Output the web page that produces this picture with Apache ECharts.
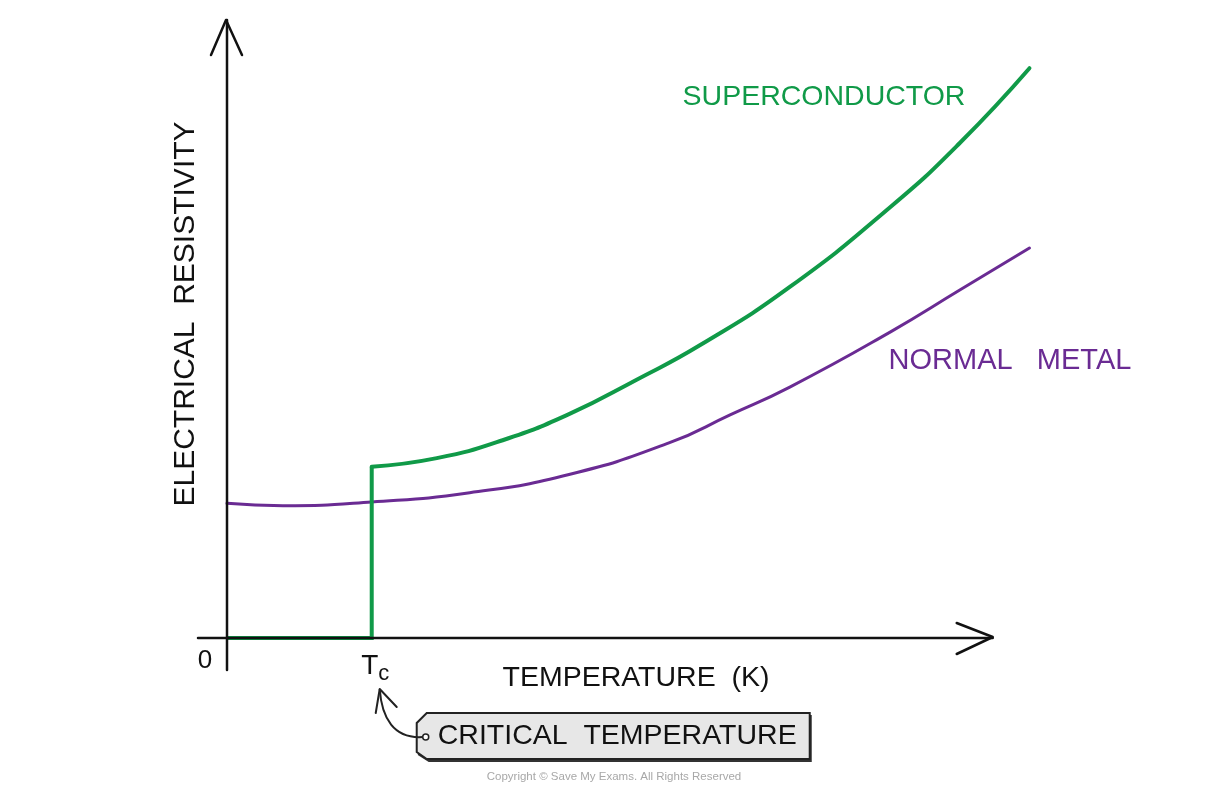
<!DOCTYPE html>
<html><head><meta charset="utf-8">
<script src="https://cdn.jsdelivr.net/npm/echarts@6/dist/echarts.min.js"></script>
<style>html,body{margin:0;padding:0;background:#fff}#c{width:1226px;height:790px}</style>
</head><body><div id="c"></div>
<script>
// Temperature (arbitrary units; axis arrow at 100) and resistivity (arbitrary units)
const tc = 18.9;
const scStepTemp = [0, 18.9, 18.9];
const scStepRho  = [0, 0, 27.7];
const scTemp = [18.9, 27.4, 36.0, 44.8, 53.5, 61.8, 73.5, 86.6, 95.7, 104.8];
const scRho  = [27.7, 29.1, 32.0, 36.3, 41.8, 47.4, 56.8, 69.7, 80.1, 92.2];
const nmTemp = [0, 7.3, 18.9, 31.7, 44.8, 57.8, 65.7, 73.5, 86.6, 95.7, 104.8];
const nmRho  = [21.8, 21.4, 22.0, 23.5, 26.5, 31.6, 36.1, 40.6, 49.5, 56.3, 63.1];
const xTickValues = [0, tc];
const xTickLabels = ['0', 'Tc'];

const GREEN = '#109a48', PURPLE = '#6a2b93', INK = '#111';
const FONT = '"Liberation Sans", Arial, sans-serif';
const zip = (a, b) => a.map((v, i) => [v, b[i]]);

const chart = echarts.init(document.getElementById('c'));
chart.setOption({
  animation: false,
  backgroundColor: '#fff',
  grid: {left: 227, right: 195, top: 20, bottom: 152, containLabel: false},
  xAxis: {
    type: 'value', min: 0, max: 105,
    axisLine: {show: false}, splitLine: {show: false},
    axisTick: {show: false},
    axisLabel: {
      show: true, margin: 10, customValues: xTickValues,
      formatter: v => {
        const s = xTickLabels[xTickValues.indexOf(v)];
        if (s === '0') return '{z|0}';
        return '{t|T}{c|c}';
      },
      rich: {
        z: {fontSize: 26, fontFamily: FONT, color: INK, padding: [0, 44, 0, 0]},
        t: {fontSize: 28, fontFamily: FONT, color: INK, padding: [0, 0, 0, 7]},
        c: {fontSize: 22, fontFamily: FONT, color: INK, padding: [15, 0, 0, 0]}
      }
    }
  },
  yAxis: {
    type: 'value', min: 0, max: 100,
    axisLine: {show: false}, splitLine: {show: false},
    axisTick: {show: false}, axisLabel: {show: false}
  },
  series: [
    {type: 'line', data: zip(nmTemp, nmRho), smooth: 0.5, showSymbol: false, clip: false,
     lineStyle: {color: PURPLE, width: 3, cap: 'round'}, z: 3},
    {type: 'line', data: zip(scStepTemp, scStepRho), smooth: false, showSymbol: false, clip: false,
     lineStyle: {color: GREEN, width: 4, cap: 'butt', join: 'miter'}, z: 4},
    {type: 'line', data: zip(scTemp, scRho), smooth: 0.5, showSymbol: false, clip: false,
     lineStyle: {color: GREEN, width: 4, cap: 'round'}, z: 4}
  ]
});

const P = (x, y) => chart.convertToPixel({gridIndex: 0}, [x, y]);
const o = P(0, 0), xEnd = P(100, 0), yEnd = P(0, 100), t = P(tc, 0);
const xStart = o[0] - 29, yStart = o[1] + 32;
const axisStyle = {stroke: INK, lineWidth: 2.5, lineCap: 'round', lineJoin: 'round', fill: null};
const txt = (text, x, y, size, color, extra) => Object.assign({
  type: 'text', x: x, y: y, z: 10,
  style: {text: text, fontSize: size, fontFamily: FONT, fill: color, align: 'center', verticalAlign: 'middle'}
}, extra || {});

const tagL = t[0] + 45, tagT = o[1] + 75, tagR = t[0] + 438, tagB = o[1] + 121;
const hole = [t[0] + 54, o[1] + 99];
const tip = [t[0] + 8, o[1] + 51];

chart.setOption({
  graphic: [
    {type: 'polyline', shape: {points: [[xStart, o[1]], [xEnd[0], o[1]]]}, style: axisStyle, z: 5},
    {type: 'polyline', shape: {points: [[xEnd[0] - 36, o[1] - 15], [xEnd[0], o[1] - 1], [xEnd[0] - 36, o[1] + 16]]}, style: axisStyle, z: 5},
    {type: 'polyline', shape: {points: [[o[0], yStart], [o[0], yEnd[1]]]}, style: axisStyle, z: 5},
    {type: 'polyline', shape: {points: [[o[0] - 16, yEnd[1] + 35], [o[0] - 1, yEnd[1]], [o[0] + 15, yEnd[1] + 35]]}, style: axisStyle, z: 5},
    txt('ELECTRICAL  RESISTIVITY', 186, 314, 30, INK, {rotation: Math.PI / 2}),
    txt('TEMPERATURE  (K)', 636, 678, 28.5, INK),
    txt('SUPERCONDUCTOR', 824, 97, 28.5, GREEN),
    txt('NORMAL   METAL', 1010, 361, 29, PURPLE),
    {type: 'polygon', z: 6, shape: {points: [[tagL + 10, tagT + 2], [tagR + 2, tagT + 2], [tagR + 2, tagB + 3], [tagL + 12, tagB + 3], [tagL + 1, tagB - 4]]},
     style: {fill: '#333', stroke: null}},
    {type: 'polygon', z: 7, shape: {points: [[tagL + 10, tagT], [tagR, tagT], [tagR, tagB], [tagL + 10, tagB], [tagL, tagB - 7], [tagL, tagT + 10]]},
     style: {fill: '#e7e7e7', stroke: '#222', lineWidth: 2}},
    {type: 'circle', z: 8, shape: {cx: hole[0], cy: hole[1], r: 3}, style: {fill: '#fff', stroke: '#222', lineWidth: 1.5}},
    {type: 'bezierCurve', z: 8, shape: {x1: hole[0] - 3, y1: hole[1], cpx1: t[0] + 22, cpy1: hole[1] + 2, cpx2: t[0] + 10, cpy2: o[1] + 80, x2: tip[0], y2: tip[1]},
     style: {stroke: '#222', lineWidth: 2, fill: null}},
    {type: 'polyline', z: 8, shape: {points: [[tip[0] - 4, tip[1] + 24], [tip[0], tip[1]], [tip[0] + 17, tip[1] + 18]]},
     style: {stroke: '#222', lineWidth: 2, fill: null, lineCap: 'round', lineJoin: 'round'}},
    txt('CRITICAL  TEMPERATURE', (tagL + tagR) / 2 + 4, (tagT + tagB) / 2, 28.5, INK, {z: 9}),
    txt('Copyright \u00a9 Save My Exams. All Rights Reserved', 614, 777, 11.5, '#a8a8a8')
  ]
});
</script></body></html>
